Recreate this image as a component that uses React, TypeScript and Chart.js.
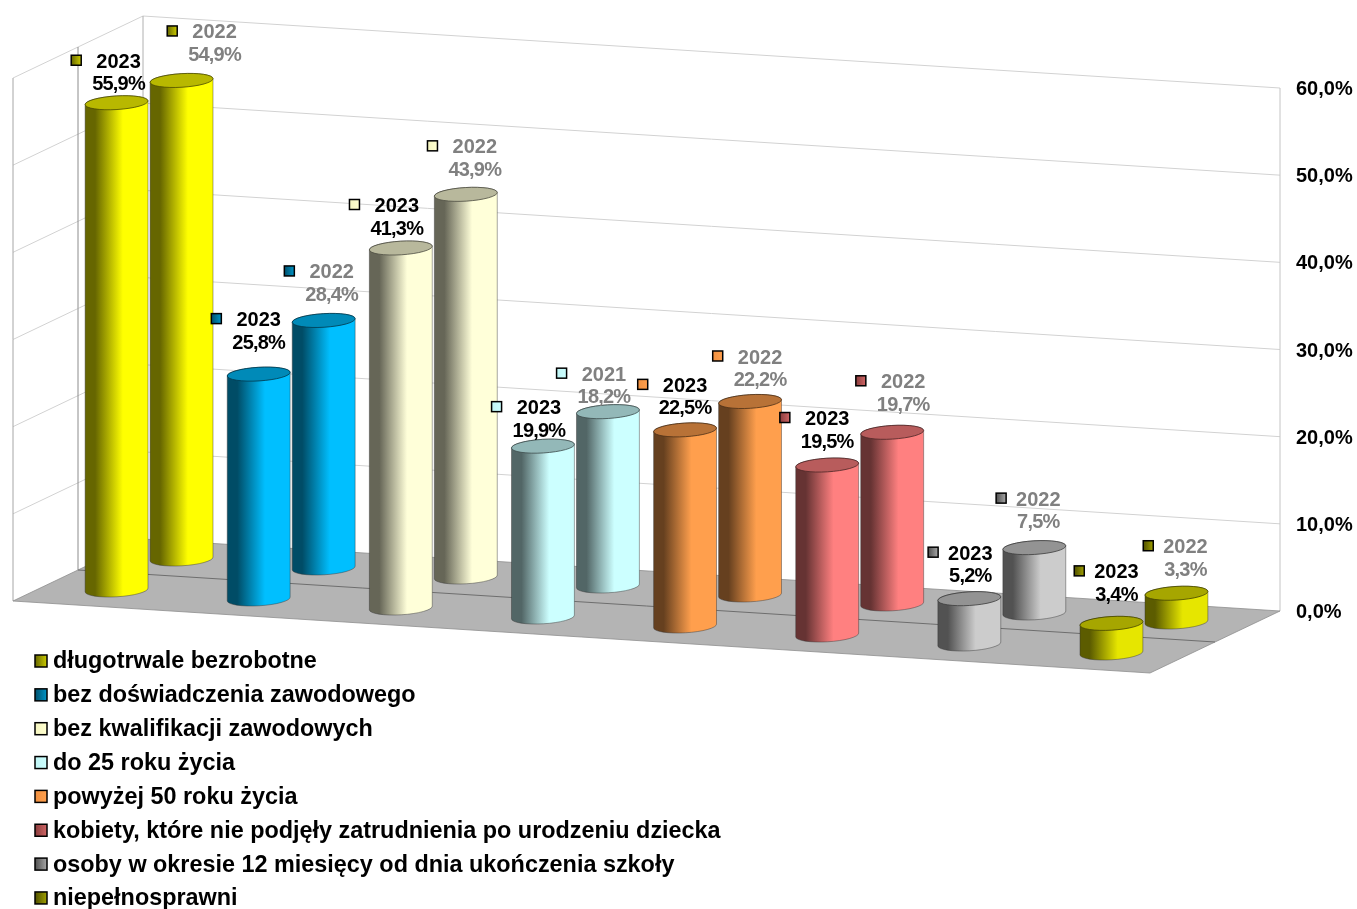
import React, { useEffect, useRef } from "react";
import { Chart, registerables } from "chart.js";

Chart.register(...registerables);

const categories = [
  "długotrwale bezrobotne",
  "bez doświadczenia zawodowego",
  "bez kwalifikacji zawodowych",
  "do 25 roku życia",
  "powyżej 50 roku życia",
  "kobiety, które nie podjęły zatrudnienia po urodzeniu dziecka",
  "osoby w okresie 12 miesięcy od dnia ukończenia szkoły",
  "niepełnosprawni",
];
const values2023 = [55.9, 25.8, 41.3, 19.6, 22.5, 19.5, 5.2, 3.4];
// The 4th rear cylinder is drawn taller than its printed label in the source picture.
const valuesRear = [54.9, 28.4, 43.9, 20.0, 22.2, 19.7, 7.5, 3.3];
const frontYears = ["2023", "2023", "2023", "2023", "2023", "2023", "2023", "2023"];
const rearYears = ["2022", "2022", "2022", "2021", "2022", "2022", "2022", "2022"];
const frontLabels = ["55,9%", "25,8%", "41,3%", "19,9%", "22,5%", "19,5%", "5,2%", "3,4%"];
const rearLabels = ["54,9%", "28,4%", "43,9%", "18,2%", "22,2%", "19,7%", "7,5%", "3,3%"];
const baseColors = ["#FFFF00", "#00BFFF", "#FFFFD9", "#CCFFFF", "#FF9F4D", "#FF8080", "#CCCCCC", "#E6E600"];
const swatchColors = [
  ["#666600", "#CCCC00"],
  ["#004F6B", "#0095C8"],
  ["#F5F5C0", "#FFFFD0"],
  ["#C0F5F5", "#CCFFFF"],
  ["#F09040", "#FF9F4D"],
  ["#8A3C3C", "#D06666"],
  ["#4F4F4F", "#A8A8A8"],
  ["#4F4F00", "#A0A000"],
];

// Layout of the pseudo-3D box (not data)
const DEPTH_X = 130;
const DEPTH_Y = 62;
const FALL = 72;
const RX = 31.5;
const RY = 6.8;
const TILT = -0.06;
const FRONT_D = 0.25;
const REAR_D = 0.75;
const FONT = '"Liberation Sans", Arial, sans-serif';
const frontOffsets = [[2, -42], [0, -55], [-4, -43], [-4, -39], [0, -45], [0, -47], [1, -46], [5, -52]];
const rearOffsets = [[33, -49], [8, -49], [9, -48], [-4, -38], [10, -45], [11, -51], [4, -49], [9, -47]];

function shade(hex: string, f: number) {
  const n = parseInt(hex.slice(1), 16);
  const r = Math.round(((n >> 16) & 255) * f);
  const g = Math.round(((n >> 8) & 255) * f);
  const b = Math.round((n & 255) * f);
  return `rgb(${r},${g},${b})`;
}

function project(chart: any, xPx: number, d: number, v: number) {
  const { x, y } = chart.scales;
  const w = x.right - x.left;
  return {
    X: xPx + d * DEPTH_X,
    Y: y.getPixelForValue(v) - (FALL * (x.right - xPx)) / w + DEPTH_Y * (1 - d),
  };
}

function line(ctx: CanvasRenderingContext2D, a: any, b: any, color: string, width = 1) {
  ctx.strokeStyle = color;
  ctx.lineWidth = width;
  ctx.beginPath();
  ctx.moveTo(a.X, a.Y);
  ctx.lineTo(b.X, b.Y);
  ctx.stroke();
}

function drawBox(chart: any, ctx: CanvasRenderingContext2D) {
  const { x, y } = chart.scales;
  const l = x.left;
  const r = x.right;
  const P = (xp: number, d: number, v: number) => project(chart, xp, d, v);
  const vMax = y.max;
  for (const t of y.ticks) {
    const c = "#D2D2D2";
    if (t.value === 0) continue;
    line(ctx, P(l, 0, t.value), P(l, 1, t.value), c);
    line(ctx, P(l, 1, t.value), P(r, 1, t.value), c);
  }
  line(ctx, P(l, 0, 0), P(l, 0, vMax), "#A6A6A6");
  line(ctx, P(l, 0.5, 0), P(l, 0.5, vMax), "#8C8C8C");
  line(ctx, P(l, 1, 0), P(l, 1, vMax), "#B0B0B0");
  line(ctx, P(r, 1, 0), P(r, 1, vMax), "#C4C4C4");
  const corners = [P(l, 0, 0), P(r, 0, 0), P(r, 1, 0), P(l, 1, 0)];
  ctx.fillStyle = "#B4B4B4";
  ctx.beginPath();
  corners.forEach((p, i) => (i ? ctx.lineTo(p.X, p.Y) : ctx.moveTo(p.X, p.Y)));
  ctx.closePath();
  ctx.fill();
  ctx.strokeStyle = "#8E8E8E";
  ctx.lineWidth = 0.8;
  ctx.stroke();
  line(ctx, P(l, 0.5, 0), P(r, 0.5, 0), "#6E6E6E");
}

function drawCylinder(chart: any, ctx: CanvasRenderingContext2D, i: number, d: number, value: number) {
  const xPx = chart.scales.x.getPixelForValue(i);
  const base = project(chart, xPx, d, 0);
  const top = project(chart, xPx, d, value);
  const color = baseColors[i];
  const grad = ctx.createLinearGradient(base.X - RX, 0, base.X + RX, 0);
  grad.addColorStop(0, shade(color, 0.4));
  grad.addColorStop(0.16, shade(color, 0.4));
  grad.addColorStop(0.6, color);
  grad.addColorStop(1, color);
  ctx.beginPath();
  ctx.ellipse(base.X, base.Y, RX, RY, TILT, 0, Math.PI, false);
  ctx.ellipse(top.X, top.Y, RX, RY, TILT, Math.PI, Math.PI * 2, false);
  ctx.closePath();
  ctx.fillStyle = grad;
  ctx.fill();
  ctx.strokeStyle = "rgba(50,50,50,0.55)";
  ctx.lineWidth = 0.8;
  ctx.stroke();
  ctx.beginPath();
  ctx.ellipse(top.X, top.Y, RX, RY, TILT, 0, Math.PI * 2);
  ctx.fillStyle = shade(color, 0.72);
  ctx.fill();
  ctx.strokeStyle = shade(color, 0.3);
  ctx.lineWidth = 0.8;
  ctx.stroke();
}

function drawSwatch(ctx: CanvasRenderingContext2D, i: number, left: number, cy: number, size: number) {
  const g = ctx.createLinearGradient(left, 0, left + size, 0);
  g.addColorStop(0, swatchColors[i][0]);
  g.addColorStop(1, swatchColors[i][1]);
  ctx.fillStyle = g;
  ctx.fillRect(left, cy - size / 2, size, size);
  ctx.strokeStyle = "#000000";
  ctx.lineWidth = 1.5;
  ctx.strokeRect(left, cy - size / 2, size, size);
}

function drawLabel(
  chart: any,
  ctx: CanvasRenderingContext2D,
  i: number,
  d: number,
  value: number,
  year: string,
  label: string,
  offset: number[],
  color: string,
) {
  const xPx = chart.scales.x.getPixelForValue(i);
  const top = project(chart, xPx, d, value);
  const cx = top.X + offset[0];
  const cy = top.Y + offset[1];
  ctx.font = `bold 20px ${FONT}`;
  ctx.textAlign = "center";
  ctx.textBaseline = "middle";
  ctx.fillStyle = color;
  (ctx as any).letterSpacing = "0px";
  ctx.fillText(year, cx, cy + 1.5);
  (ctx as any).letterSpacing = "-0.8px";
  ctx.fillText(label, cx, cy + 24);
  const w = ctx.measureText(label).width;
  (ctx as any).letterSpacing = "0px";
  drawSwatch(ctx, i, cx - w / 2 - 21, cy - 0.5, 10);
}

const cylinderPlugin = {
  id: "cylinders",
  beforeDatasetsDraw(chart: any) {
    const ctx = chart.ctx;
    ctx.save();
    drawBox(chart, ctx);
    categories.forEach((_, i) => drawCylinder(chart, ctx, i, REAR_D, valuesRear[i]));
    categories.forEach((_, i) => drawCylinder(chart, ctx, i, FRONT_D, values2023[i]));
    ctx.restore();
  },
  afterDatasetsDraw(chart: any) {
    const ctx = chart.ctx;
    ctx.save();
    categories.forEach((_, i) =>
      drawLabel(chart, ctx, i, REAR_D, valuesRear[i], rearYears[i], rearLabels[i], rearOffsets[i], "#808080"),
    );
    categories.forEach((_, i) =>
      drawLabel(chart, ctx, i, FRONT_D, values2023[i], frontYears[i], frontLabels[i], frontOffsets[i], "#000000"),
    );
    ctx.font = `bold 23.4px ${FONT}`;
    ctx.textAlign = "left";
    ctx.textBaseline = "middle";
    categories.forEach((name, i) => {
      const cy = 661 + i * 33.85;
      drawSwatch(ctx, i, 35, cy, 12);
      ctx.fillStyle = "#000000";
      ctx.fillText(name, 53, cy + 1);
    });
    ctx.restore();
  },
};

export default function App() {
  const ref = useRef<HTMLCanvasElement>(null);
  useEffect(() => {
    const chart = new Chart(ref.current!, {
      type: "bar",
      data: {
        labels: categories,
        datasets: [
          { label: "2023", data: values2023, backgroundColor: "transparent", borderWidth: 0 },
          { label: "2022", data: valuesRear, backgroundColor: "transparent", borderWidth: 0 },
        ],
      },
      options: {
        animation: false,
        responsive: false,
        layout: { autoPadding: false, padding: { left: 13, top: 88, right: 0, bottom: 298 } },
        plugins: { legend: { display: false }, tooltip: { enabled: false } },
        scales: {
          x: { display: false },
          y: {
            position: "right",
            min: 0,
            max: 60,
            grid: { display: false, drawTicks: false },
            border: { display: false },
            afterFit(scale: any) {
              scale.width = 207;
              scale.paddingTop = 0;
              scale.paddingBottom = 0;
            },
            ticks: {
              stepSize: 10,
              padding: 146,
              labelOffset: 1.5,
              color: "#000000",
              font: { family: FONT, size: 20, weight: "bold" },
              callback: (v: any) => Number(v).toFixed(1).replace(".", ",") + "%",
            },
          },
        },
      },
      plugins: [cylinderPlugin],
    } as any);
    return () => chart.destroy();
  }, []);
  return (
    <canvas
      ref={ref}
      width={1357}
      height={909}
      style={{ position: "fixed", left: 0, top: 0, display: "block", background: "#FFFFFF" }}
    />
  );
}
